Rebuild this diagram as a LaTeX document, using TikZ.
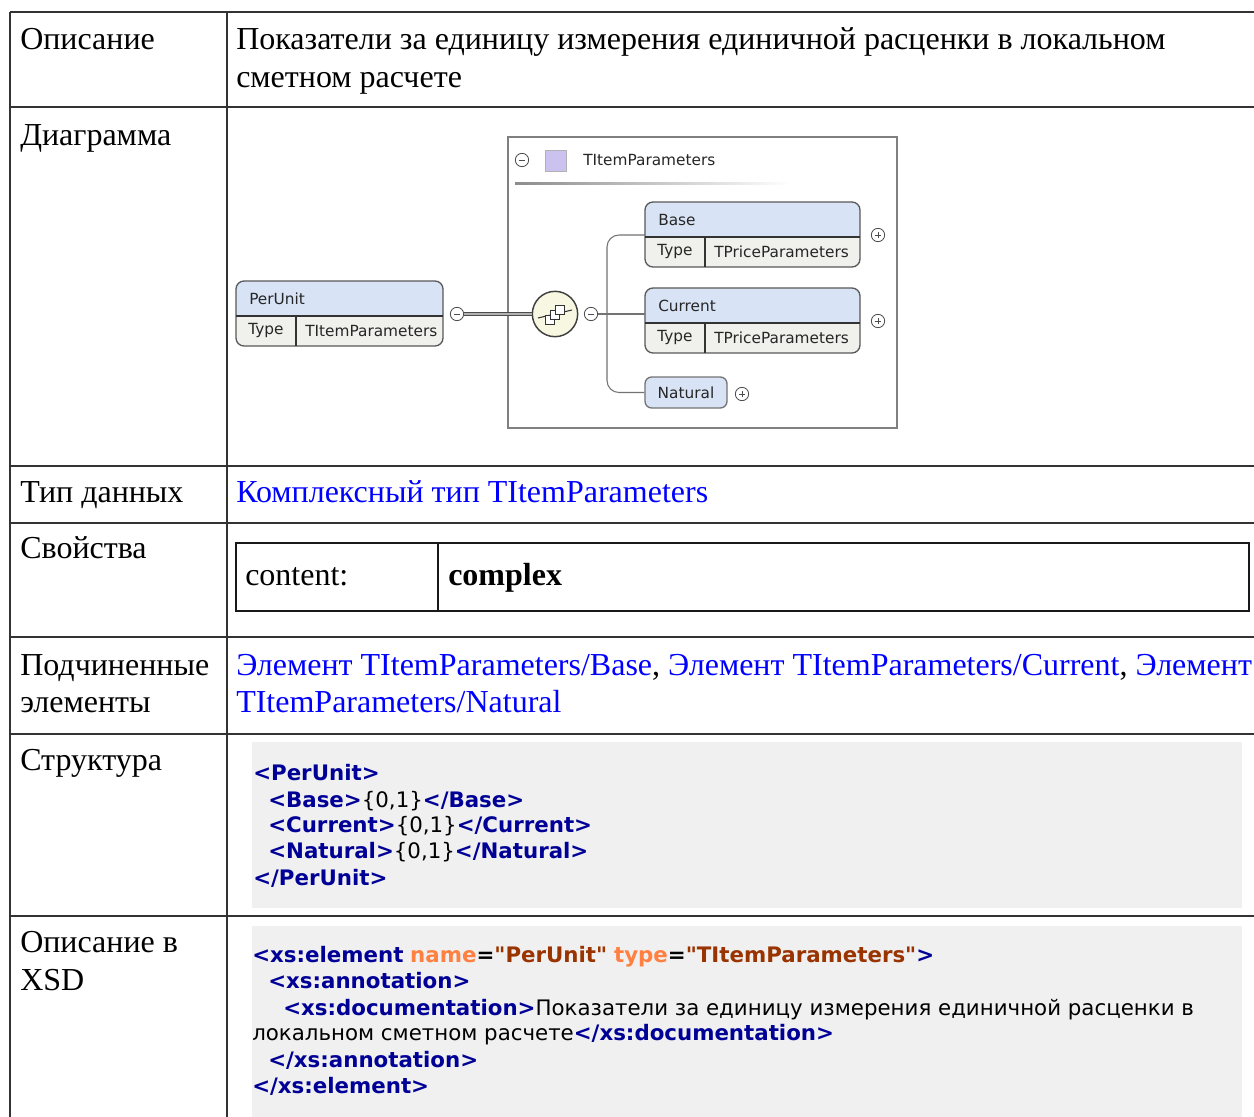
\documentclass[tikz,border=0pt]{standalone}
\usepackage{fontspec}
\setmainfont{Liberation Serif}
\newfontfamily\codefont{DejaVu Sans}
\newfontfamily\diagfont{DejaVu Sans}
\usepackage{tikz}
\usetikzlibrary{calc, positioning, shapes}
\definecolor{tagblue}{RGB}{0,0,150}
\definecolor{attrname}{RGB}{255,128,64}
\definecolor{attrval}{RGB}{153,51,0}
\definecolor{linkblue}{RGB}{0,0,255}
\definecolor{codegray}{RGB}{240,240,240}
\definecolor{headblue}{RGB}{216,228,246}
\definecolor{typegray}{RGB}{240,240,236}
\definecolor{seqfill}{RGB}{248,248,226}
\definecolor{lavender}{RGB}{204,194,240}
\newcommand\tg[1]{{\bfseries\color{tagblue}#1}}
\newcommand\at[1]{{\bfseries\color{attrname}#1}}
\newcommand\av[1]{{\bfseries\color{attrval}#1}}
\newcommand\elembox[6]{\fill[typegray, rounded corners=6pt] (#2,#3) rectangle (#4,#3+65);\begin{scope}\clip (#2-3,#3-3) rectangle (#4+3,#3+35);\fill[headblue, rounded corners=6pt] (#2,#3) rectangle (#4,#3+65);\end{scope}\draw[elemline, rounded corners=6pt] (#2,#3) rectangle (#4,#3+65);\draw[line width=1.3pt, black!80] (#2,#3+35) -- (#4,#3+35);\draw[line width=0.9pt, black!80] (#2+60,#3+35) -- (#2+60,#3+65);\node[diagtext, anchor=west] (#1) at (#2+13,#3+18) {#5};\node[diagtext] (#1type) at (#2+30,#3+50) {Type};\node[diagtext, anchor=west] (#1tname) at (#2+69,#3+50) {#6};\coordinate (#1L) at (#2,#3+33);\coordinate (#1R) at (#4,#3+33);}

\begin{document}
\begin{tikzpicture}[x=0.75pt, y=-0.75pt,
	tableline/.style={line width=1.6pt, black!80},
	celltext/.style={anchor=base west, inner sep=0pt, font=\fontsize{24}{28}\selectfont},
	codetext/.style={anchor=base west, inner sep=0pt, font=\codefont\fontsize{16}{19}\selectfont},
	diagtext/.style={inner sep=0pt, font=\diagfont\fontsize{11.5}{13}\selectfont, text=black!85},
	elemline/.style={line width=1pt, black!65},
	minusbtn/.style={circle, draw=black!70, line width=0.6pt, fill=white, minimum size=10pt, inner sep=0pt, path picture={\draw[black!70, line width=0.6pt] ([xshift=-2.5pt]path picture bounding box.center) -- ([xshift=2.5pt]path picture bounding box.center);}},
	plusbtn/.style={circle, draw=black!70, line width=0.6pt, fill=white, minimum size=10pt, inner sep=0pt, path picture={\draw[black!70, line width=0.6pt] ([xshift=-2.5pt]path picture bounding box.center) -- ([xshift=2.5pt]path picture bounding box.center) ([yshift=-2.5pt]path picture bounding box.center) -- ([yshift=2.5pt]path picture bounding box.center);}},
	branch/.style={black!55, line width=0.8pt}]
	\useasboundingbox (0,0) rectangle (1254,1117);
	\clip (0,0) rectangle (1254,1117);
	\fill[white] (0,0) rectangle (1254,1117);
	\fill[codegray] (252,742) rectangle (1242,908);
	\fill[codegray] (252,926) rectangle (1242,1125);
	\draw[tableline] (10,12) -- (1262,12);
	\draw[tableline] (10,107) -- (1262,107);
	\draw[tableline] (10,466) -- (1262,466);
	\draw[tableline] (10,523) -- (1262,523);
	\draw[tableline] (10,637) -- (1262,637);
	\draw[tableline] (10,734) -- (1262,734);
	\draw[tableline] (10,916) -- (1262,916);
	\draw[tableline] (10,12) -- (10,1125);
	\draw[tableline] (227,12) -- (227,1125);
	\node[celltext] (descl) at (20,50) {Описание};
	\node[celltext] (descv) at (236,50) {Показатели за единицу измерения единичной расценки в локальном};
	\node[celltext] (descv2) at (236,87) {сметном расчете};
	\node[celltext] (diagl) at (20,145) {Диаграмма};
	\node[celltext] (typel) at (20,502) {Тип данных};
	\node[celltext, text=linkblue] (typev) at (236,502) {Комплексный тип TItemParameters};
	\node[celltext] (propl) at (20,558) {Свойства};
	\draw[line width=1.5pt, black!90] (236,543) rectangle (1249,611);
	\draw[line width=1.5pt, black!90] (438,543) -- (438,611);
	\node[celltext] (contentk) at (245,585) {content:};
	\node[celltext, font=\fontsize{24}{28}\selectfont\bfseries] (contentv) at (448,585) {complex};
	\node[celltext] (subl) at (20,675) {Подчиненные};
	\node[celltext] (subl2) at (20,712) {элементы};
	\node[celltext] (subv) at (236,675) {{\color{linkblue}Элемент TItemParameters/Base}, {\color{linkblue}Элемент TItemParameters/Current}, {\color{linkblue}Элемент}};
	\node[celltext, text=linkblue] (subv2) at (236,712) {TItemParameters/Natural};
	\node[celltext] (strl) at (20,770) {Структура};
	\node[codetext] (str1) at (253,780) {\tg{<PerUnit>}};
	\node[codetext] (str2) at (268,807) {\tg{<Base>}\{0,1\}\tg{</Base>}};
	\node[codetext] (str3) at (268,832) {\tg{<Current>}\{0,1\}\tg{</Current>}};
	\node[codetext] (str4) at (268,858) {\tg{<Natural>}\{0,1\}\tg{</Natural>}};
	\node[codetext] (str5) at (253,885) {\tg{</PerUnit>}};
	\node[celltext] (xsdl) at (20,952) {Описание в};
	\node[celltext] (xsdl2) at (20,990) {XSD};
	\node[codetext] (xsd1) at (252,962) {\tg{<xs:element} \at{name}{\bfseries =}\av{"PerUnit"} \at{type}{\bfseries =}\av{"TItemParameters"}\tg{>}};
	\node[codetext] (xsd2) at (268,988) {\tg{<xs:annotation>}};
	\node[codetext] (xsd3) at (283,1015) {\tg{<xs:documentation>}Показатели за единицу измерения единичной расценки в};
	\node[codetext] (xsd4) at (252,1040) {локальном сметном расчете\tg{</xs:documentation>}};
	\node[codetext] (xsd5) at (268,1067) {\tg{</xs:annotation>}};
	\node[codetext] (xsd6) at (252,1093) {\tg{</xs:element>}};
	\draw[line width=1.4pt, black!50] (508,137) rectangle (897,428);
	\node[minusbtn] (typeminus) at (522,160) {};
	\node[draw=black!30, fill=lavender, minimum size=16pt, inner sep=0pt] (typeicon) at (556,161) {};
	\node[diagtext, anchor=west] (typetitle) at (583,160) {TItemParameters};
	\shade[left color=black!45, right color=white] (515,182) rectangle (790,184.5);
	\elembox{perunit}{236}{281}{443}{PerUnit}{TItemParameters}
	\node[minusbtn] (perunitminus) at (457,314) {};
	\node[circle, draw=black!75, line width=1.1pt, fill=seqfill, minimum size=34pt, inner sep=0pt] (seq) at (555,314) {};
	\draw[black!80, line width=0.8pt] ($(seq.center)+(-17,4)$) -- ($(seq.center)+(17,-4)$);
	\draw[black!80, line width=0.7pt, fill=white] ($(seq.center)+(-10,1)$) rectangle +(9,9);
	\draw[black!80, line width=0.7pt, fill=white] ($(seq.center)+(-5,-4)$) rectangle +(9,9);
	\draw[black!80, line width=0.7pt, fill=white] ($(seq.center)+(0,-9)$) rectangle +(9,9);
	\node[minusbtn] (seqminus) at (591,314) {};
	\draw[double=black!30, double distance=1.4pt, draw=black!70, line width=0.7pt] (perunitminus.east) -- (seq.west);
	\elembox{base}{645}{202}{860}{Base}{TPriceParameters}
	\elembox{current}{645}{288}{860}{Current}{TPriceParameters}
	\node[diagtext, draw=black!55, line width=1pt, fill=headblue, rounded corners=5pt, minimum width=61.5pt, minimum height=23.25pt] (natural) at (686,392.5) {Natural};
	\node[plusbtn] (baseplus) at (878,235) {};
	\node[plusbtn] (currentplus) at (878,321) {};
	\node[plusbtn] (naturalplus) at (742,394) {};
	\coordinate (spine) at (607,314);
	\draw[branch] (seqminus.east) -- (seqminus.east -| currentL);
	\draw[branch, rounded corners=9pt] (baseL) -| (spine) |- (natural.west);
\end{tikzpicture}
\end{document}
